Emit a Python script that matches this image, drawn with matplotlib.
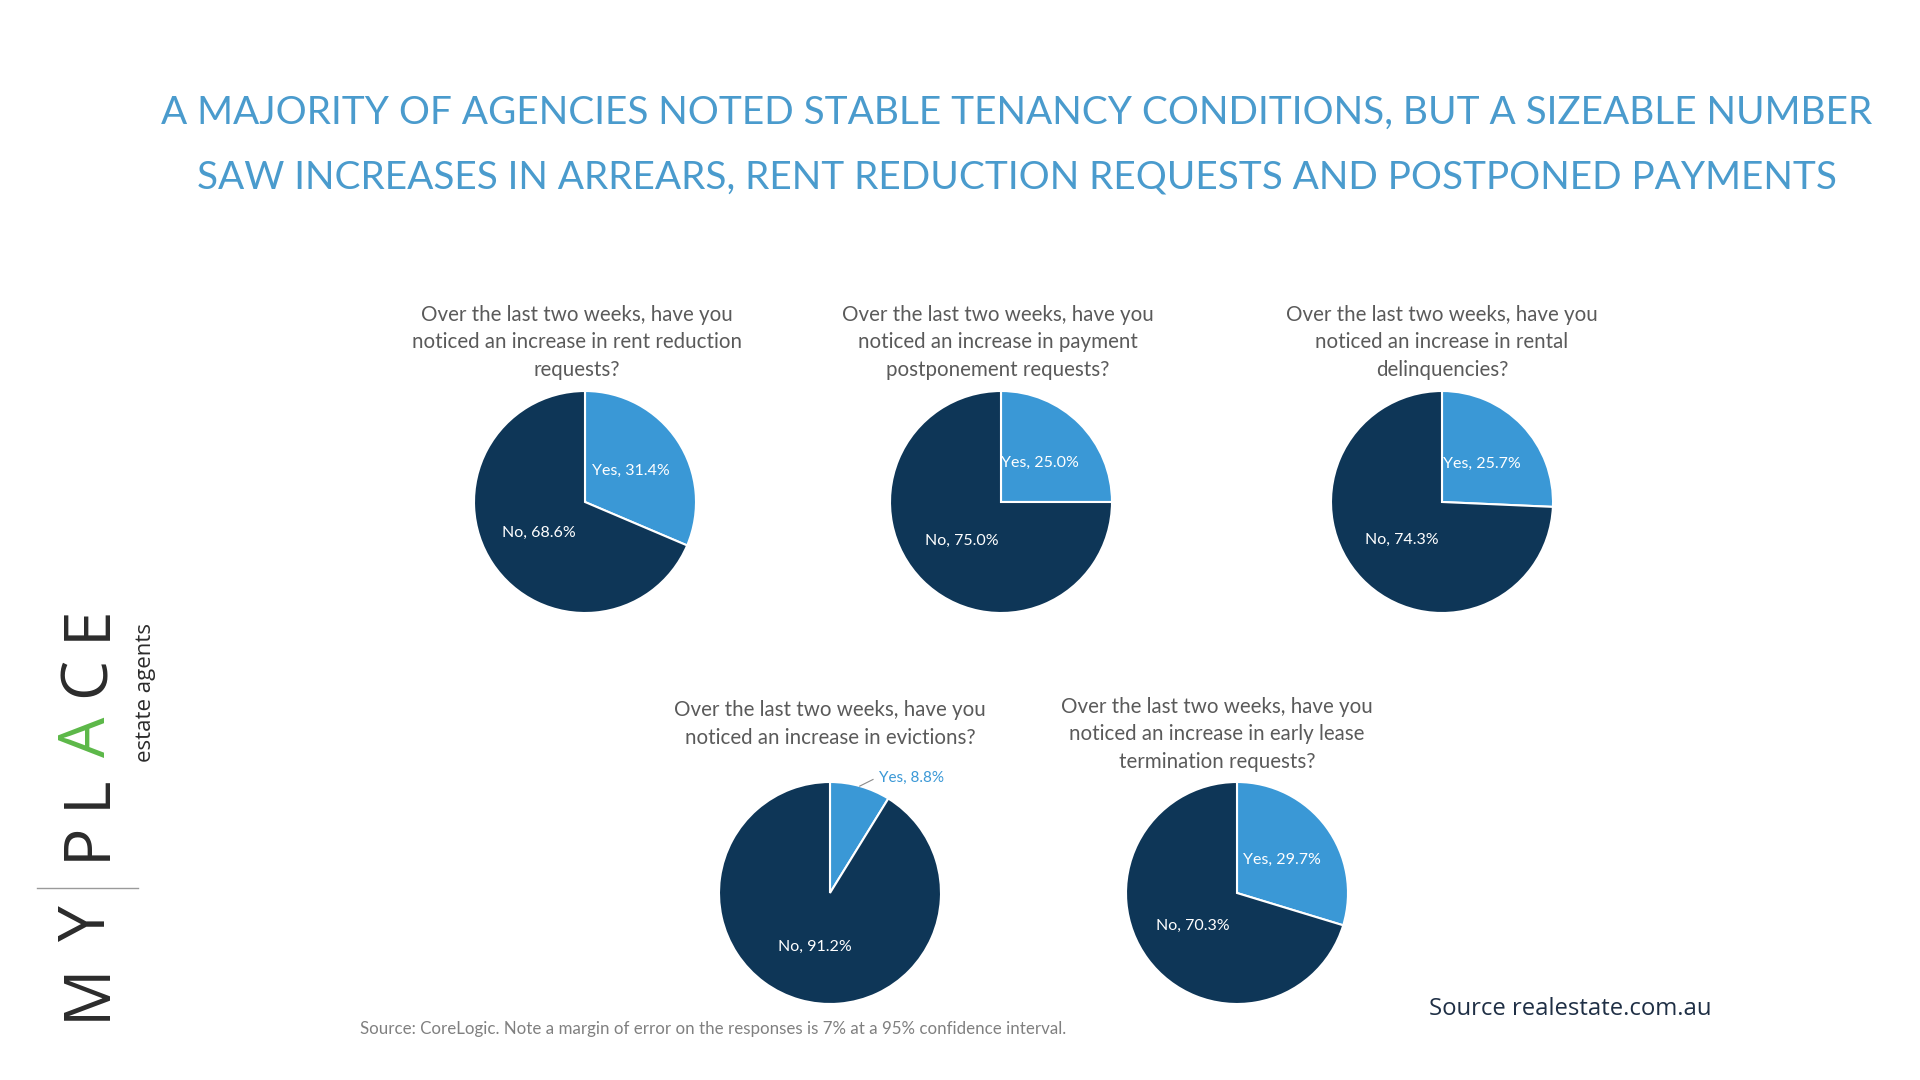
import matplotlib
matplotlib.use("Agg")
import matplotlib.pyplot as plt
from matplotlib.lines import Line2D
import numpy as np

W, H = 1920, 1080

title_lines = [
    "A MAJORITY OF AGENCIES NOTED STABLE TENANCY CONDITIONS, BUT A SIZEABLE NUMBER",
    "SAW INCREASES IN ARREARS, RENT REDUCTION REQUESTS AND POSTPONED PAYMENTS",
]
questions = [
    "Over the last two weeks, have you\nnoticed an increase in rent reduction\nrequests?",
    "Over the last two weeks, have you\nnoticed an increase in payment\npostponement requests?",
    "Over the last two weeks, have you\nnoticed an increase in rental\ndelinquencies?",
    "Over the last two weeks, have you\nnoticed an increase in evictions?",
    "Over the last two weeks, have you\nnoticed an increase in early lease\ntermination requests?",
]
answers = ["Yes", "No"]
yes_pct = [31.4, 25.0, 25.7, 8.8, 29.7]
no_pct = [68.6, 75.0, 74.3, 91.2, 70.3]
note = "Source: CoreLogic. Note a margin of error on the responses is 7% at a 95% confidence interval."
source = "Source realestate.com.au"

# layout in pixels: pie centre x, centre y, first question line y, question centre x
pie_centres = [(585, 502), (1001, 502), (1442, 502), (830, 893), (1237, 893)]
q_pos = [(577, 315), (998, 315), (1442, 315), (830, 710), (1217, 707)]
radius = 111

YES_C = "#3a98d6"
NO_C = "#0e3657"
Q_C = "#5a5a5a"


def fx(x):
    return x / W


def fy(y):
    return 1 - y / H


fig = plt.figure(figsize=(19.2, 10.8), dpi=100)
fig.patch.set_facecolor("white")

# title
for i, line in enumerate(title_lines):
    fig.text(fx(1017), fy(113 + i * 64), line, ha="center", va="center",
             fontsize=27.9, color="#4a9bcd", family="Lato")

# pies
for i in range(len(questions)):
    cx, cy = pie_centres[i]
    ax = fig.add_axes([fx(cx - radius), fy(cy + radius), 2 * radius / W, 2 * radius / H])
    wedges, _ = ax.pie([yes_pct[i], no_pct[i]], colors=[YES_C, NO_C], startangle=90,
                       counterclock=False, radius=1,
                       wedgeprops=dict(edgecolor="white", linewidth=1.5))
    ax.set_xlim(-1, 1)
    ax.set_ylim(-1, 1)
    ax.set_aspect("equal")
    ax.axis("off")
    vals = [yes_pct[i], no_pct[i]]
    for j, w in enumerate(wedges):
        mid = np.deg2rad((w.theta1 + w.theta2) / 2)
        lab = f"{answers[j]}, {vals[j]:.1f}%"
        if j == 0 and vals[j] < 15:
            ex, ey = 0.98 * np.cos(mid), 0.98 * np.sin(mid)
            ax.plot([ex, ex + 0.12], [ey + 0.02, ey + 0.08], color="#8a8a8a", lw=0.8, clip_on=False)
            ax.text(ex + 0.17, ey + 0.09, lab, ha="left", va="center", fontsize=11,
                    color=YES_C, family="Lato")
        else:
            ax.text(0.5 * np.cos(mid), 0.5 * np.sin(mid), lab, ha="center", va="center",
                    fontsize=11.5, color="white", family="Lato")

    qx, qy = q_pos[i]
    for k, line in enumerate(questions[i].split("\n")):
        fig.text(fx(qx), fy(qy + k * 27.5), line, ha="center", va="center",
                 fontsize=14.8, color=Q_C, family="Lato")

fig.text(fx(360), fy(1029), note, ha="left", va="center", fontsize=12.2,
         color="#808080", family="Lato")
fig.text(fx(1429), fy(1009), source, ha="left", va="center", fontsize=17.2,
         color="#1f2f45", family="Open Sans")

# logo
logo = [("M", 991, "#2b2b2b"), ("Y", 923, "#2b2b2b"), ("P", 841, "#2b2b2b"),
        ("L", 791, "#2b2b2b"), ("A", 737, "#5cb848"), ("C", 677, "#2b2b2b"),
        ("E", 622, "#2b2b2b")]
for ch, y, c in logo:
    fig.text(fx(88), fy(y), ch, rotation=90, ha="center", va="center",
             fontsize=46, color=c, family="Open Sans")
fig.add_artist(Line2D([fx(37), fx(138)], [fy(888), fy(888)], color="#9a9a9a", lw=1))
fig.text(fx(145), fy(692), "estate agents", rotation=90, ha="center", va="center",
         fontsize=16, color="#2b2b2b", family="Open Sans")

fig.savefig("out.png", dpi=100, facecolor="white")
